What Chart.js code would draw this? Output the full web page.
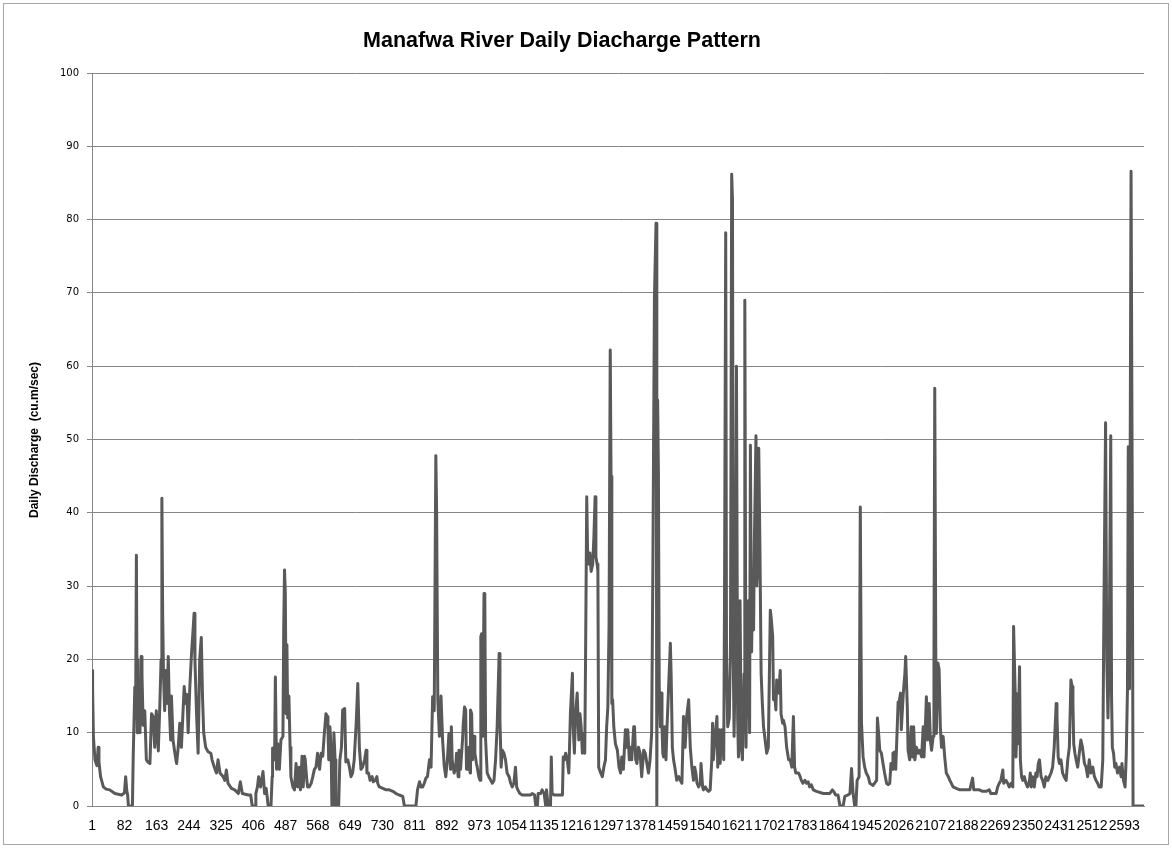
<!DOCTYPE html>
<html><head><meta charset="utf-8">
<script src="https://cdn.jsdelivr.net/npm/chart.js@4"></script>
<style>html,body{margin:0;padding:0;background:#fff}canvas{display:block}</style>
</head><body>
<canvas id="c" width="1172" height="848"></canvas>
<script>
const chartTitle = "Manafwa River Daily Diacharge Pattern";
const yAxisTitle = "Daily Discharge  (cu.m/sec)";
const dayCount = 2642;
const xTickLabels = [1,82,163,244,325,406,487,568,649,730,811,892,973,1054,1135,1216,1297,1378,1459,1540,1621,1702,1783,1864,1945,2026,2107,2188,2269,2350,2431,2512,2593];
const yTickValues = [0,10,20,30,40,50,60,70,80,90,100];

const days = [
1,2,4,8,13,16,18,22,29,36,45,58,75,82,85,88,90,92,102,104,108,110,112,114,115,116,118,121,124,126,129,133,137,141,146,150,154,158,162,167,171,174,176,178,180,183,186,189,192,195,198,200,204,210,213,217,221,225,232,236,239,242,246,250,257,259,263,267,271,275,278,281,286,292,299,302,307,313,317,322,330,334,338,342,351,359,368,373,378,393,399,403,410,412,416,419,424,430,434,438,443,450,
453,454,459,461,464,467,471,475,480,482,484,486,488,490,492,495,498,500,505,509,513,517,521,524,528,531,534,536,540,542,546,551,555,559,563,567,572,576,580,584,588,591,593,595,598,601,603,607,608,611,613,620,623,627,630,635,638,643,647,651,655,659,664,668,672,676,680,685,689,691,695,699,704,707,712,716,718,722,731,739,747,756,764,772,781,785,814,818,823,827,831,835,839,843,848,852,856,860,864,866,869,873,877,881,
885,889,893,897,901,903,905,910,914,916,920,922,926,931,933,936,939,941,945,947,950,951,954,956,960,962,966,968,972,975,977,979,982,985,987,989,993,997,1002,1006,1010,1014,1018,1023,1025,1028,1031,1035,1039,1043,1048,1052,1056,1060,1064,1067,1070,1075,1081,1102,1106,1112,1115,1119,1121,1127,1131,1136,1140,1142,1146,1152,1154,1156,1161,1182,1184,1187,1190,1194,1198,1202,1207,1209,1212,1215,1219,1223,1226,1229,1232,1234,1238,1240,1243,1245,1248,1251,1254,1258,1261,1264,1266,1269,1271,1273,1278,1282,1286,1290,1293,1296,1299,1302,1304,1306,1308,1311,1315,1320,1324,1328,
1331,1335,1340,1344,1346,1350,1352,1356,1361,1363,1366,1369,1373,1377,1381,1386,1390,1394,1398,1402,1406,1409,1413,1417,1419,1421,1423,1425,1428,1430,1432,1434,1436,1438,1442,1444,1448,1453,1455,1458,1461,1465,1469,1474,1478,1482,1486,1490,1494,1499,1503,1507,1511,1514,1517,1520,1524,1528,1530,1534,1536,1541,1545,1549,1553,1557,1559,1561,1566,1570,1572,1576,1578,1582,1585,1587,1589,1592,1594,1597,1601,1604,1607,1609,1611,1613,1616,1619,1622,1624,1628,1631,1634,1638,1640,1643,1646,1649,1652,1654,1657,1659,1662,1664,1668,1670,1673,1675,1678,1681,1684,1687,1691,1695,1699,1704,1706,1710,1712,1715,1718,1720,1725,1729,1731,1735,1737,1741,1745,1750,1754,1758,1762,1765,1768,1775,1779,
1782,1786,1791,1795,1799,1803,1807,1812,1820,1837,1853,1860,1863,1868,1874,1879,1887,1891,1899,1904,1908,1912,1916,1919,1922,1927,1930,1933,1937,1941,1945,1950,1954,1962,1971,1973,1976,1979,1983,1987,1991,1996,2000,2004,2007,2010,2012,2017,2019,2022,2025,2027,2031,2033,2038,2042,2044,2048,2050,2054,2058,2061,2064,2067,2071,2075,2079,2084,2088,2090,2094,2096,2099,2103,2106,2109,2113,2115,2117,2120,2121,2125,2128,2131,2134,2138,2142,2146,2151,2155,2163,2171,2180,2197,2205,2212,2215,2222,2229,
2237,2246,2254,2258,2271,2275,2279,2283,2288,2290,2296,2300,2304,2309,2313,2315,2319,2321,2324,2326,2330,2332,2335,2338,2342,2346,2350,2355,2357,2359,2363,2367,2371,2374,2377,2380,2384,2388,2392,2396,2401,2405,2409,2413,2417,2422,2424,2427,2430,2434,2438,2442,2447,2451,2455,2459,2462,2464,2466,2469,2472,2476,2480,2484,2488,2493,2497,2501,2505,2509,2514,2518,2522,2526,2530,2535,2539,2542,2546,2549,2552,2555,2559,2561,2563,2566,2569,2572,2576,2581,2585,2587,2591,2595,2598,2601,2603,2606,2610,2613,2615,2642
];

const discharge = [
18.5,16,9.5,6.3,5.5,8,6,4,2.6,2.3,2.2,1.7,1.5,1.8,4,2,1.5,0,0,6.8,16.2,12,34.2,10,20,12,16,10,20.4,18,11,13,6.3,6,5.8,12.6,12.2,8,13,7.5,14,20,42,26,18,13,18.5,14,20.4,13,9,15,9,6.7,5.8,8,11.3,8,16.3,14,15.2,10,16,20.4,26.3,20,12.6,7.2,20,23,15,10,8,7.4,7.2,6.3,5.4,4.5,6.3,4.5,4,3.5,4.9,3.1,2.4,2.2,1.7,3.3,1.7,1.5,1.5,0,0,1.7,2.6,4,2.6,4.7,1.7,2.4,0,0,
4,7.9,6.3,17.6,5,8.5,5,9,9.5,24.5,32.2,29,12.6,22,12,15,8,4,2.6,2.2,5.8,2.6,5.3,2.2,6.8,2.6,6.8,6.3,3.5,2.6,2.6,3.1,4,5,5.3,7.2,5,7.2,6.8,9.9,12.6,12.2,10.8,6.3,10.8,8,0,0,10,6.3,0,0,6.3,8,13.1,13.3,6,6.3,5.3,4,4.5,6.3,11.3,16.7,8,5,5.3,6.3,7.6,4.5,4.5,3.5,4,3.3,3.5,4,3.1,2.6,2.4,2.2,2.2,2.0,1.7,1.5,1.3,0,0,2.2,3.3,2.6,2.6,3.1,3.8,4,6.3,5.3,14.9,13,47.8,40,14.5,9.5,15,9,
5.5,4,6.3,9.9,5,10.8,6.3,4.5,5.3,7.2,4,7.6,5,9,11.3,13.5,13.1,5,5,8,4.5,13.1,12.6,6.3,9.5,7.2,5.8,5.3,4,3.5,23.1,23.5,9.5,29,28,9,4.5,4,3.5,3.1,3.5,6.3,10.8,20.8,11.7,5.3,7.6,7.2,6.3,4.5,4,3.1,2.6,3.1,5.3,2.6,2.2,1.7,1.5,1.5,1.7,1.5,0,0,1.7,1.7,2.2,1.7,0,2.2,0,0,6.7,1.7,1.5,1.5,6.7,6.3,7.2,6.3,4.5,12.6,18.1,10.8,7.2,12.6,15.4,9,12.6,10.8,7.2,9.9,7.2,19.9,42.2,35,33,34.5,32,33,36.7,42.2,34,33,32,5.3,4.5,4,5.3,6.3,10.8,13.5,24.5,62.2,45,14,14.5,10.8,8.5,7.6,5.3,4.5,
6.7,5,10.4,8,10.4,6.3,8,6.3,10.8,10.8,6.3,5.8,8,7.2,4,7.6,7.2,5.8,4.5,6.3,9.9,32,69.3,79.5,0,55.4,45.4,16.3,10.8,15.4,10.8,7.2,6.7,10.8,6.3,9.9,15.4,22.2,17.7,8,6.3,5,3.5,4,3.5,3.1,12.2,8,12.2,14.5,8,5.3,3.5,5.3,4.5,3.1,2.6,3.1,5.8,2.6,2.2,2.6,2.2,2.0,2.2,6.3,11.3,6.3,9.9,12.2,5.3,10.4,5.8,10.4,9.9,6.3,28,78.2,20,10.8,12,22,86.2,82.7,20,9.5,20,60,12,6.7,28,8,6.3,18,69,8,20,28,10,49.2,21,28,24,36,50.5,30,33,48.8,35,18,14,10.8,9,7.2,8,26.7,25.8,23.1,14.5,15.4,13.1,17.2,15.4,18.5,12.6,11.3,11.7,10.8,8,6.3,6.3,5.3,12.2,5.3,4.5,4.5,4,
3.5,3.1,3.5,3.1,3.3,2.6,2.9,2.2,2.0,1.7,1.7,2.2,2.0,1.5,1.5,0,0,1.3,1.5,1.7,5.1,1.7,0,0,3.5,4,40.8,11.3,6.7,5.3,4.5,4,3.1,2.8,3.5,12,9.9,7.6,7.2,5.8,4.5,3.1,2.9,3.1,5.8,5,7.2,7.4,5,9.5,14.2,14,15.4,10.4,15.4,18.1,20.4,13.6,7.6,6.3,10.8,6.7,10.8,6.3,8,7.2,7.6,6.7,10.8,6.7,11.7,14.9,9,14,9,7.6,9.5,20,57,15,9.9,19.5,18.6,10.8,8,9.5,6.7,4.5,4,3.5,2.6,2.4,2.2,2.2,2.2,3.8,2.2,2.2,2.2,
2.0,2.0,2.2,1.7,1.7,2.6,3.1,3.5,4.9,3.1,3.5,3.1,2.6,3.1,2.6,24.5,15.4,6.7,11.7,8.5,19,6.3,4,3.5,4,3.1,2.6,3.5,4.5,2.6,4,2.6,4.5,4,5.8,6.3,4,3.5,2.6,4,3.5,4,4.5,5.3,8,14,12.2,6.7,5.8,6.3,4.5,4,3.5,6.3,8,17.2,16.3,14,8.5,7.2,6.3,5.3,7.2,9,8,5.8,5.3,4,6.3,4.5,5.3,4,3.5,3.1,2.6,2.6,6.3,28,52.3,20,12,20,50.5,15,8,7.2,5.3,5.8,4.5,5.3,4,5.8,3.5,2.6,7,16,49,16,86.6,41.3,0,0
];

const points = days.map((d, i) => ({ x: d, y: discharge[i] }));

const decor = {
  id: 'decor',
  beforeDraw(chart) {
    const ctx = chart.ctx;
    ctx.save();
    ctx.fillStyle = '#ffffff';
    ctx.fillRect(0, 0, chart.width, chart.height);
    ctx.strokeStyle = '#a6a6a6';
    ctx.lineWidth = 1;
    ctx.strokeRect(3.5, 3.5, 1165, 841);
    ctx.restore();
  },
  afterDraw(chart) {
    const ctx = chart.ctx;
    ctx.save();
    ctx.fillStyle = '#000000';
    ctx.font = 'bold 21.5px "Liberation Sans", Arial, sans-serif';
    ctx.textAlign = 'center';
    ctx.textBaseline = 'alphabetic';
    ctx.fillText(chartTitle, 562, 46.5);
    ctx.translate(35, 440);
    ctx.rotate(-Math.PI / 2);
    ctx.font = 'bold 12px "Liberation Sans", Arial, sans-serif';
    ctx.textBaseline = 'middle';
    ctx.fillText(yAxisTitle, 0, 0);
    ctx.restore();
  }
};

new Chart(document.getElementById('c'), {
  type: 'line',
  data: {
    datasets: [{
      data: points,
      borderColor: '#595959',
      borderWidth: 3,
      pointRadius: 0,
      pointHoverRadius: 0,
      tension: 0,
      fill: false,
      borderJoinStyle: 'round',
      borderCapStyle: 'round'
    }]
  },
  options: {
    responsive: false,
    devicePixelRatio: 1,
    animation: false,
    parsing: true,
    layout: { padding: { top: 73, right: 28, bottom: 0, left: 0 } },
    plugins: { legend: { display: false }, tooltip: { enabled: false }, title: { display: false } },
    scales: {
      x: {
        type: 'linear',
        min: 0.5,
        max: dayCount + 0.5,
        afterBuildTicks: (s) => { s.ticks = xTickLabels.map(v => ({ value: v })); },
        afterFit: (s) => { s.height = 42; },
        grid: { display: false, drawTicks: false },
        border: { display: true, color: '#868686', width: 1 },
        ticks: {
          autoSkip: false, maxRotation: 0, minRotation: 0, padding: 12,
          color: '#000000',
          font: { family: '"Liberation Sans", Arial, sans-serif', size: 14 },
          callback: (v) => String(v)
        }
      },
      y: {
        type: 'linear',
        min: 0,
        max: 100,
        afterBuildTicks: (s) => { s.ticks = yTickValues.map(v => ({ value: v })); },
        afterFit: (s) => { s.width = 92; },
        grid: { color: '#868686', lineWidth: 1, drawTicks: true, tickLength: 5 },
        border: { display: true, color: '#868686', width: 1 },
        ticks: {
          padding: 8,
          color: '#000000',
          font: { family: '"DejaVu Sans", Verdana, sans-serif', size: 10 },
          callback: (v) => String(v)
        }
      }
    }
  },
  plugins: [decor]
});
</script>
</body></html>
